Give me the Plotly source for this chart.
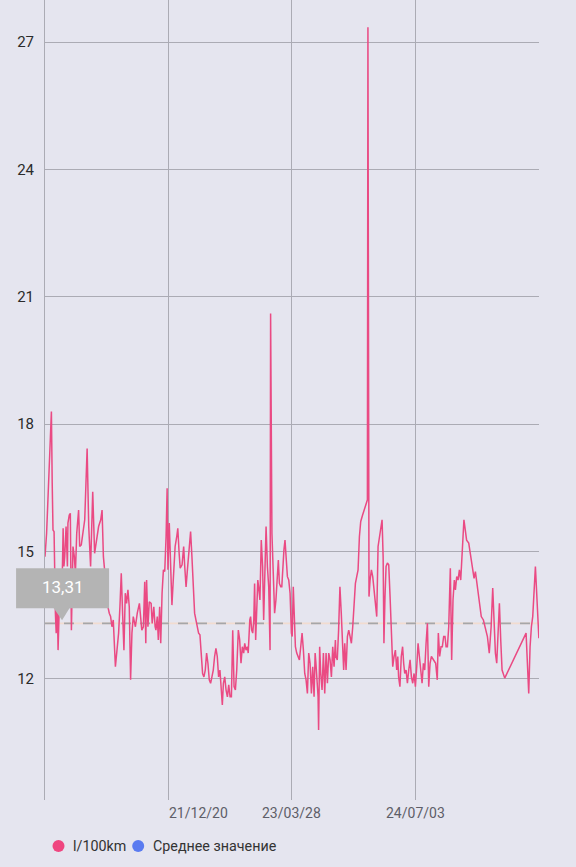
import plotly.graph_objects as go
import pandas as pd

# ---------------- data ----------------
start_date = "2020-09-13"
day_offsets = [
    0, 6, 11, 16, 24, 27, 30, 34, 36, 39, 42, 46, 49, 54, 57, 64, 68, 71, 74, 79,
    84, 86, 91, 95, 99, 105, 110, 114, 119, 126, 130, 136, 141, 149, 158, 164, 171, 179, 186, 192,
    201, 209, 214, 219, 226, 236, 241, 246, 251, 256, 264, 269, 276, 281, 286, 291, 296, 301, 306, 311,
    316, 321, 326, 331, 339, 346, 354,
    363, 369, 374, 378, 381, 386, 391, 398, 402, 408, 413, 416, 421, 425, 430, 434, 439, 444, 449, 454,
    458, 461, 466, 471, 476, 481, 488, 494, 498, 503, 507, 514, 520, 524, 529, 534, 540, 546, 551, 556,
    561, 566, 571, 576, 581, 586, 591, 596, 601, 606, 611, 616, 621, 626, 631, 636, 641, 646, 651, 656,
    660, 665, 669, 674, 679, 684, 689, 694, 699, 704, 709, 714, 719, 725,
    730, 735, 740, 745, 749, 754, 759, 762, 768, 771, 775, 779, 783, 786, 790, 794, 798, 801, 806, 811,
    816, 820, 824, 829, 834, 839, 844, 846, 851, 856, 861, 866, 871, 875, 879, 884, 888, 891, 896, 900,
    904, 909, 914, 919, 924, 927, 931, 935, 939, 944, 949, 954, 959, 964, 969, 974, 979, 984, 989, 994,
    999, 1004, 1009, 1013, 1016, 1020, 1024, 1026, 1030, 1034, 1039, 1044, 1049, 1054, 1059, 1064, 1069, 1074, 1079, 1084,
    1089,
    1091, 1096, 1101, 1106, 1111, 1116, 1120, 1124, 1129, 1134, 1139, 1144, 1149, 1154, 1159, 1164, 1169, 1174, 1179, 1184,
    1191, 1199, 1209, 1211, 1215, 1219, 1224, 1229, 1234, 1239, 1244, 1249, 1254, 1259, 1264, 1268, 1271, 1275, 1279, 1284,
    1289, 1294, 1299, 1304, 1309, 1314, 1319, 1323, 1326, 1331, 1336, 1341, 1345, 1349, 1354, 1359, 1364, 1369, 1374, 1379,
    1384, 1389, 1394, 1399, 1404, 1409, 1414, 1419, 1424, 1429, 1434, 1439, 1444, 1449, 1456,
    1465, 1471, 1475, 1480, 1485, 1490, 1495, 1500, 1504, 1509, 1514, 1520, 1525, 1530, 1535, 1539, 1544, 1549, 1554, 1559,
    1564, 1571, 1576, 1581, 1589, 1596, 1604, 1609, 1614, 1621, 1629, 1636, 1644, 1651, 1659, 1666, 1673, 1679, 1684, 1689,
    1694, 1699, 1704, 1709, 1714, 1724, 1804, 1814, 1819, 1824, 1829, 1839, 1852,
]
consumption = [
    14.88, 15.43, 16.22, 17.0, 18.30, 16.62, 15.51, 15.47, 14.49, 13.55,
    13.08, 13.86, 12.68, 13.70, 14.49, 14.17, 15.55, 14.65, 14.88, 15.59,
    14.65, 15.67, 15.86, 15.90, 13.15, 15.12, 14.88, 14.49, 15.43, 15.98,
    15.12, 15.16, 15.43, 15.75, 17.43, 15.59, 14.65, 16.41, 14.96, 15.20,
    15.59, 15.75, 15.98, 14.88, 14.33, 13.70, 13.55, 13.47, 13.23, 13.39,
    12.29, 12.61, 13.08, 13.70, 14.49, 13.55, 12.68, 14.02, 13.78, 14.10,
    13.70, 11.98, 13.08, 13.47, 13.23, 13.55, 13.78,
    13.15, 13.23, 14.29, 12.84, 14.33, 13.23, 13.82, 13.78, 13.31, 13.70,
    13.23, 13.15, 13.47, 12.92, 13.70, 12.84, 14.02, 14.57, 14.53, 15.35,
    16.49, 14.57, 15.67, 14.88, 13.74, 14.33, 15.12, 15.35, 15.55, 14.96,
    14.61, 14.69, 15.12, 14.65, 14.17, 14.57, 15.12, 15.47, 14.88, 14.25,
    13.55, 13.39, 13.23, 13.08, 13.04, 12.68, 12.13, 12.05, 12.21, 12.61,
    12.37, 11.98, 11.90, 12.05, 12.21, 12.53, 12.72, 12.53, 12.05, 12.21,
    11.74, 11.39, 11.90, 12.05, 11.74, 11.58, 11.86, 11.58, 11.58, 13.15,
    11.82, 11.74, 12.21, 13.15,
    12.92, 12.37, 12.76, 12.61, 12.84, 12.68, 12.76, 12.61, 13.39, 13.47,
    13.15, 13.08, 13.39, 14.25, 12.92, 13.94, 14.33, 14.17, 13.86, 15.27,
    14.65, 13.39, 14.65, 15.59, 14.65, 14.17, 12.68, 20.61, 15.43, 14.25,
    13.55, 13.86, 14.49, 14.80, 14.25, 14.17, 14.17, 14.65, 15.04, 15.27,
    14.80, 14.41, 14.33, 14.02, 13.08, 13.00, 14.17, 13.47, 12.76, 12.61,
    12.53, 12.45, 12.76, 13.08, 12.68, 12.13, 11.98, 11.66, 12.61, 12.37,
    11.66, 12.29, 11.58, 12.61, 12.37, 11.90, 11.58, 10.80, 12.76, 12.13,
    11.74, 12.61, 11.66, 12.61, 11.90, 12.61, 12.45, 12.05, 12.76, 12.29,
    12.92,
    12.53, 12.45, 13.15, 14.17, 13.55, 12.84, 12.21, 12.84, 12.21, 13.00,
    13.15, 13.00, 12.84, 13.23, 13.78, 14.25, 14.41, 14.57, 15.35, 15.71,
    15.86, 16.02, 16.22, 27.35, 13.94, 14.33, 14.57, 14.41, 14.10, 13.78,
    13.47, 15.12, 15.35, 15.59, 15.75, 14.88, 12.84, 13.94, 14.65, 14.73,
    14.69, 13.94, 13.15, 12.29, 12.53, 12.68, 12.21, 12.53, 12.05, 11.82,
    12.53, 12.76, 12.37, 12.13, 12.21, 11.90, 12.21, 12.45, 12.05, 11.90,
    12.13, 11.82, 12.29, 12.84, 12.53, 12.21, 11.90, 12.37, 12.21, 12.84,
    13.31, 11.82, 12.37, 12.53, 12.45,
    12.37, 11.98, 13.08, 12.53, 12.76, 12.76, 13.00, 13.00, 12.76, 12.76,
    13.23, 14.61, 12.45, 13.86, 14.33, 14.10, 14.41, 14.33, 14.57, 14.33,
    15.04, 15.75, 15.51, 15.27, 15.20, 14.88, 14.49, 14.37, 14.53, 14.17,
    13.78, 13.47, 13.39, 13.23, 13.00, 12.61, 13.23, 14.14, 13.23, 12.61,
    12.37, 13.08, 13.78, 12.92, 12.21, 12.02, 13.08, 11.66, 12.76, 13.23,
    13.47, 14.65, 12.96,
]
average_value = 13.31
tooltip_day = 64
axis_end_day = 1852.5
tick_dates = ["2021-12-20", "2023-03-28", "2024-07-03"]
tick_labels = ["21/12/20", "23/03/28", "24/07/03"]
y_ticks = [12, 15, 18, 21, 24, 27]
y_range = [9.15, 27.99]
series_names = ["l/100km", "Среднее значение"]

# ---------------- styles ----------------
BG = "#E5E5EF"
GRID = "#ABABB4"
LINE_COLOR = "#EA4A83"
LEGEND_COLORS = ["#EF4680", "#5A7BF0"]
FONT = "Roboto"

start = pd.Timestamp(start_date)
dates = [start + pd.Timedelta(days=d) for d in day_offsets]
x_end = start + pd.Timedelta(days=axis_end_day)

fig = go.Figure()

# average line: soft peach base with grey dashes
fig.add_trace(go.Scatter(
    x=[start, x_end], y=[average_value, average_value], mode="lines",
    line=dict(color="#F2DCD0", width=1.6), hoverinfo="skip", showlegend=False))
fig.add_trace(go.Scatter(
    x=[start, x_end], y=[average_value, average_value], mode="lines",
    name=series_names[1],
    line=dict(color="#A6A6A8", width=1.6, dash="10px,9px"), showlegend=False))

# consumption line
fig.add_trace(go.Scatter(
    x=dates, y=consumption, mode="lines", name=series_names[0],
    line=dict(color=LINE_COLOR, width=1.5), showlegend=False))

fig.update_layout(
    width=576, height=867,
    margin=dict(l=45, r=37, t=0, b=67),
    paper_bgcolor=BG, plot_bgcolor=BG,
    font=dict(family=FONT, size=14, color="#333333"),
    showlegend=False,
)
fig.update_xaxes(
    type="date", range=[start, x_end], tickvals=tick_dates, showticklabels=False,
    showgrid=True, gridcolor=GRID, gridwidth=1, zeroline=False, showline=False, ticks="",
)
fig.update_yaxes(
    range=y_range, tickvals=y_ticks, ticktext=[str(v) for v in y_ticks],
    showgrid=True, gridcolor=GRID, gridwidth=1, zeroline=False,
    showline=True, linecolor=GRID, linewidth=1, ticks="", ticklabelstandoff=7,
    tickfont=dict(family=FONT, size=15, color="#2B2B2B"),
)

# x tick labels
anchors = ["left", "center", "center"]
for d, lab, anc in zip(tick_dates, tick_labels, anchors):
    fig.add_annotation(x=d, xref="x", y=0, yref="paper", text=lab, showarrow=False,
                       xanchor=anc, yanchor="middle", yshift=-13, borderpad=0,
                       font=dict(family=FONT, size=14, color="#5E5E68"))

# tooltip for the average value (paper-anchored so it is not clipped)
tip_px = tooltip_day / axis_end_day
tip_py = (average_value - y_range[0]) / (y_range[1] - y_range[0])
TIP = "#B4B4B4"
fig.add_shape(type="rect", xref="paper", yref="paper", xsizemode="pixel", ysizemode="pixel",
              xanchor=tip_px, yanchor=tip_py, x0=-46, x1=47, y0=15, y1=55,
              fillcolor=TIP, line=dict(width=0), layer="above")
fig.add_shape(type="path", xref="paper", yref="paper", xsizemode="pixel", ysizemode="pixel",
              xanchor=tip_px, yanchor=tip_py, path="M -9,16 L 8,16 L 0,3 Z",
              fillcolor=TIP, line=dict(width=0), layer="above")
fig.add_annotation(x=tip_px, xref="paper", y=tip_py, yref="paper",
                   text=f"{average_value:.2f}".replace(".", ","), showarrow=False,
                   xanchor="center", yanchor="middle", yshift=36, xshift=1, borderpad=0,
                   font=dict(family=FONT, size=17, color="#FFFFFF"))

# legend (dots + labels)
dot_centers = [13.5, 93.2]
text_shifts = [26.7, 106.8]
for cx, col, name, ts in zip(dot_centers, LEGEND_COLORS, series_names, text_shifts):
    fig.add_shape(type="circle", xref="paper", yref="paper", xsizemode="pixel", ysizemode="pixel",
                  xanchor=0, yanchor=0, x0=cx - 6, x1=cx + 6, y0=-52, y1=-40,
                  fillcolor=col, line=dict(width=0))
    fig.add_annotation(x=0, xref="paper", y=0, yref="paper", text=name, showarrow=False,
                       xanchor="left", yanchor="middle", xshift=ts, yshift=-46, borderpad=0,
                       font=dict(family=FONT, size=14.3, color="#333333"))

fig.write_html(
    "out.html",
    config={"displayModeBar": False},
    post_script="document.body.style.margin='0';document.body.style.background='" + BG + "';",
)
